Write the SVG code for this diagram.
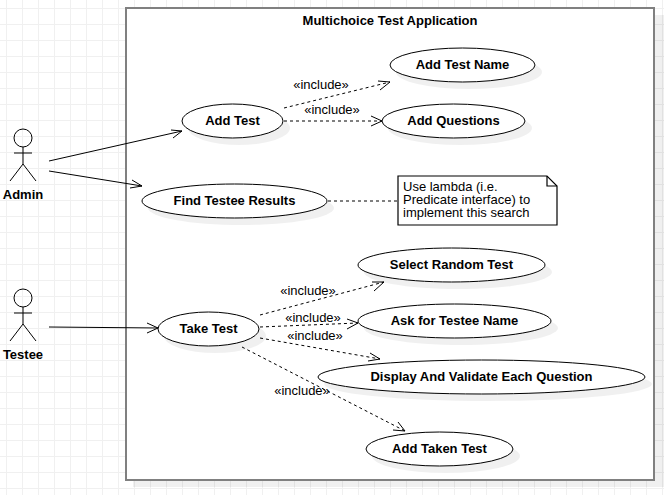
<svg xmlns="http://www.w3.org/2000/svg" width="664" height="495" viewBox="0 0 664 495">
<style>
text{font-family:"Liberation Sans",Arial,sans-serif;font-size:13px;fill:#000}
.b{font-weight:bold;text-anchor:middle}
.l{text-anchor:middle;font-size:13px}
.u{fill:#fff;stroke:#000;stroke-width:1}
.s{fill:#000;fill-opacity:.06;stroke:none}
.d{fill:none;stroke:#000;stroke-width:1;stroke-dasharray:3 3}
.a{fill:none;stroke:#000;stroke-width:1}
.h{fill:none;stroke:#000;stroke-width:1}
.g{stroke:#f0f0f0;stroke-width:1}
</style>
<defs>
<pattern id="grid" width="16" height="16" patternUnits="userSpaceOnUse" x="6" y="8">
<path d="M.5 0V16M0 .5H16" class="g" fill="none"/>
</pattern>
</defs>
<rect width="664" height="495" fill="#fff"/>
<rect width="664" height="495" fill="url(#grid)"/>
<g id="system">
<rect x="133" y="15" width="531" height="472" class="s"/>
<rect x="126" y="8" width="528" height="472" fill="#fff" stroke="#808080" stroke-width="2"/>
<text x="390" y="25" class="b">Multichoice Test Application</text>
</g>
<g id="connectors">
<path d="M49 161L182 131" class="a"/><path d="M171 130L182 131L173 138" class="h"/>
<path d="M49 171L142 186" class="a"/><path d="M132 180L142 186L130 188" class="h"/>
<path d="M49 327L158 328" class="a"/><path d="M147 323L158 328L147 333" class="h"/>
<path d="M284 108L390 82" class="d"/><path d="M378 81L390 82L380 90" class="h"/>
<path d="M284 121L382 121" class="d"/><path d="M371 116L382 121L371 126" class="h"/>
<path d="M328 201L398 201" class="d"/>
<path d="M260 315L384 282" class="d"/><path d="M372 282L384 282L374 291" class="h"/>
<path d="M260 327L358 323" class="d"/><path d="M347 319L358 323L347 329" class="h"/>
<path d="M260 338L380 359" class="d"/><path d="M370 353L380 359L368 361" class="h"/>
<path d="M242 347L405 431" class="d"/><path d="M398 422L405 431L393 430" class="h"/>
<text x="321" y="89" class="l">«include»</text>
<text x="332" y="114" class="l">«include»</text>
<text x="308" y="295" class="l">«include»</text>
<text x="313" y="322" class="l">«include»</text>
<text x="315" y="340" class="l">«include»</text>
<text x="302" y="395" class="l">«include»</text>
</g>
<g id="admin" class="a">
<circle cx="23" cy="138" r="9"/><path d="M23 147V164M14 153H32M10 181L23 164L36 181"/>
<text x="23" y="199" class="b" stroke="none">Admin</text>
</g>
<g id="testee" class="a">
<circle cx="23" cy="298" r="9"/><path d="M23 307V324M14 313H32M10 341L23 324L36 341"/>
<text x="23" y="359" class="b" stroke="none">Testee</text>
</g>
<g id="add-test"><ellipse cx="239" cy="128" rx="51" ry="17" class="s"/><ellipse cx="232.500" cy="121" rx="50.500" ry="17" class="u"/><text x="232.500" y="125" class="b">Add Test</text></g>
<g id="add-test-name"><ellipse cx="469" cy="72" rx="73" ry="17" class="s"/><ellipse cx="462.500" cy="65" rx="72.500" ry="17" class="u"/><text x="462.500" y="69" class="b">Add Test Name</text></g>
<g id="add-questions"><ellipse cx="460" cy="128" rx="72" ry="17" class="s"/><ellipse cx="453.500" cy="121" rx="71.500" ry="17" class="u"/><text x="453.500" y="125" class="b">Add Questions</text></g>
<g id="find-results"><ellipse cx="241" cy="208" rx="93" ry="17" class="s"/><ellipse cx="234.500" cy="201" rx="92.500" ry="17" class="u"/><text x="234.500" y="205" class="b">Find Testee Results</text></g>
<g id="note">
<path d="M398 176H547L557 186V225H398Z" fill="#fff" stroke="#000" stroke-width="1.200"/>
<path d="M547 176V186H557" fill="none" stroke="#000" stroke-width="1.200"/>
<text x="403" y="191">Use lambda (i.e.</text><text x="403" y="204">Predicate interface) to</text><text x="403" y="217">implement this search</text>
</g>
<g id="take-test"><ellipse cx="215" cy="336" rx="51" ry="17" class="s"/><ellipse cx="208.500" cy="329" rx="50.500" ry="17" class="u"/><text x="208.500" y="333" class="b">Take Test</text></g>
<g id="select-random"><ellipse cx="458" cy="272" rx="94" ry="17" class="s"/><ellipse cx="451.500" cy="265" rx="93.500" ry="17" class="u"/><text x="451.500" y="269" class="b">Select Random Test</text></g>
<g id="ask-name"><ellipse cx="461" cy="328" rx="97" ry="17" class="s"/><ellipse cx="454.500" cy="321" rx="96.500" ry="17" class="u"/><text x="454.500" y="325" class="b">Ask for Testee Name</text></g>
<g id="display"><ellipse cx="488" cy="384" rx="164" ry="17" class="s"/><ellipse cx="481.500" cy="377" rx="163.500" ry="17" class="u"/><text x="481.500" y="381" class="b">Display And Validate Each Question</text></g>
<g id="add-taken"><ellipse cx="446" cy="456" rx="74" ry="17" class="s"/><ellipse cx="439.500" cy="449" rx="73.500" ry="17" class="u"/><text x="439.500" y="453" class="b">Add Taken Test</text></g>
</svg>
